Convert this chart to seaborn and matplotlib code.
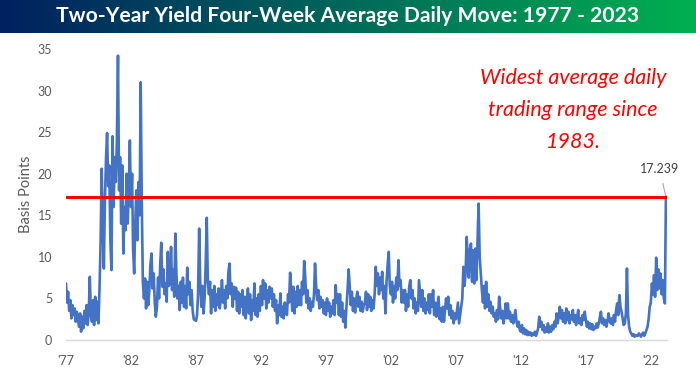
import numpy as np
import pandas as pd
import matplotlib
matplotlib.use("Agg")
import matplotlib.pyplot as plt
import seaborn as sns
from matplotlib.colors import LinearSegmentedColormap

# ---- data: approximate monthly readings of the 4-week average daily move (bp) ----
bp_1977_1981 = [
    6.8, 4.5, 5.8, 3.5, 4.8, 2.6, 4.2, 3.0, 3.8, 2.2, 3.4, 2.5,
    1.6, 3.2, 1.0, 2.8, 1.4, 3.5, 2.0, 4.2, 1.8, 3.2, 7.6, 3.0,
    2.2, 4.8, 1.8, 5.2, 2.4, 4.6, 2.0, 6.2, 11.8, 20.6, 14.0, 8.6,
    17.0, 22.0, 24.9, 18.5, 21.0, 12.0, 8.4, 24.5, 16.0, 22.0, 19.0, 24.0,
    34.2, 18.0, 22.0, 14.0, 21.0, 10.4, 16.0, 13.2, 20.0, 14.0, 18.0, 24.0,
]
bp_1982_1986 = [
    16.0, 20.0, 11.0, 8.0, 14.0, 18.0, 12.0, 19.0, 15.0, 31.0, 16.5, 7.0,
    5.0, 7.4, 3.8, 7.0, 4.2, 6.0, 9.0, 10.4, 6.2, 8.0, 4.5, 2.8,
    4.0, 7.5, 5.0, 9.0, 11.7, 6.4, 8.5, 5.5, 6.8, 4.6, 10.6, 6.5,
    7.0, 11.2, 6.0, 8.5, 5.2, 12.8, 8.0, 5.0, 6.5, 3.6, 7.0, 4.5,
    7.5, 4.0, 6.5, 3.8, 8.7, 5.5, 7.0, 4.2, 6.0, 3.5, 2.5, 2.4,
]
bp_1987_1991 = [
    2.3, 3.0, 5.5, 13.4, 7.0, 4.0, 6.5, 3.2, 5.0, 9.0, 14.7, 7.0,
    5.5, 7.0, 3.2, 6.0, 4.0, 6.5, 3.5, 5.5, 4.2, 6.2, 3.8, 5.0,
    7.2, 4.5, 6.0, 3.8, 6.5, 5.0, 8.2, 9.2, 5.5, 6.8, 4.0, 6.4,
    5.0, 6.3, 3.5, 5.8, 3.2, 5.5, 4.0, 6.0, 3.0, 5.2, 2.6, 4.8,
    6.2, 3.2, 5.5, 2.4, 4.8, 3.5, 6.8, 3.0, 5.0, 2.8, 5.5, 3.5,
]
bp_1992_1996 = [
    6.5, 4.2, 7.2, 5.0, 6.8, 3.8, 6.0, 4.5, 6.4, 5.0, 6.2, 4.0,
    5.5, 3.5, 4.8, 2.0, 4.2, 3.0, 5.6, 2.8, 4.0, 2.6, 4.5, 3.2,
    3.0, 5.5, 4.5, 8.1, 6.0, 3.5, 6.4, 3.2, 5.8, 4.0, 6.5, 4.2,
    6.0, 4.2, 7.0, 5.5, 9.5, 7.5, 4.5, 6.0, 3.8, 5.0, 3.5, 4.6,
    4.0, 5.5, 9.2, 6.5, 4.8, 6.0, 3.8, 5.2, 4.0, 4.8, 3.2, 4.5,
]
bp_1997_2001 = [
    3.0, 5.0, 3.5, 4.5, 2.8, 4.0, 3.2, 4.8, 3.0, 6.6, 4.5, 5.5,
    3.0, 5.5, 2.8, 4.5, 2.2, 3.5, 1.5, 4.0, 6.0, 8.5, 6.5, 4.2,
    5.8, 3.5, 5.0, 3.3, 4.8, 5.8, 4.0, 5.2, 3.5, 4.6, 3.4, 4.2,
    4.5, 5.8, 3.6, 5.5, 4.0, 5.2, 3.5, 4.8, 3.8, 5.5, 8.8, 6.5,
    8.0, 5.5, 7.5, 6.0, 8.2, 5.0, 6.5, 3.2, 7.0, 9.0, 10.6, 6.5,
]
bp_2002_2006 = [
    5.5, 7.0, 4.5, 6.5, 5.0, 7.5, 6.0, 9.6, 6.5, 7.2, 4.5, 6.0,
    4.5, 6.0, 3.5, 5.5, 4.0, 6.5, 7.2, 5.0, 6.0, 3.8, 5.0, 3.2,
    4.5, 3.5, 7.2, 5.5, 4.0, 6.0, 3.5, 5.0, 3.2, 4.5, 3.6, 5.5,
    3.2, 5.5, 4.0, 6.0, 3.0, 4.5, 2.8, 4.0, 5.2, 2.5, 3.8, 2.2,
    4.0, 2.2, 3.5, 5.0, 3.8, 5.2, 3.0, 4.2, 2.6, 3.5, 2.0, 3.2,
]
bp_2007_2011 = [
    2.5, 3.5, 4.5, 2.0, 3.0, 4.0, 5.0, 8.8, 6.5, 8.0, 12.4, 9.5,
    7.5, 11.0, 11.6, 7.0, 10.8, 6.8, 11.0, 7.2, 12.0, 16.4, 10.0, 8.0,
    6.0, 4.5, 6.5, 3.8, 7.0, 4.0, 5.5, 3.5, 4.6, 3.2, 4.0, 2.8,
    3.2, 2.2, 3.6, 2.5, 5.2, 3.8, 2.6, 3.5, 2.0, 3.0, 4.4, 2.6,
    4.4, 2.6, 3.4, 2.2, 3.0, 2.0, 2.8, 3.6, 2.2, 1.6, 2.2, 1.2,
]
bp_2012_2016 = [
    1.0, 1.8, 0.8, 1.4, 0.7, 1.2, 0.6, 1.0, 0.6, 0.9, 0.5, 0.8,
    0.6, 1.0, 0.5, 0.9, 1.4, 2.8, 1.6, 2.2, 1.2, 1.8, 0.9, 1.5,
    1.0, 2.0, 0.9, 1.6, 1.0, 1.8, 1.3, 2.2, 1.6, 3.2, 2.0, 2.8,
    4.0, 2.6, 3.6, 2.2, 3.2, 2.0, 3.8, 2.4, 3.4, 2.0, 3.0, 2.5,
    3.6, 2.2, 3.0, 1.8, 2.8, 3.6, 2.0, 2.6, 1.8, 3.0, 2.4, 3.4,
]
bp_2017_2023 = [
    2.4, 1.6, 2.2, 1.4, 2.0, 1.3, 1.9, 1.2, 1.6, 1.4, 2.0, 1.5,
    2.0, 2.8, 3.4, 2.0, 2.6, 1.8, 2.4, 1.6, 2.2, 3.2, 2.4, 2.0,
    2.6, 1.8, 3.0, 2.2, 3.6, 4.4, 3.0, 5.4, 4.0, 3.4, 2.6, 1.8,
    2.0, 3.2, 8.6, 3.0, 1.6, 1.0, 0.8, 0.5, 0.7, 0.4, 0.6, 0.5,
    0.5, 0.8, 0.6, 0.4, 0.7, 0.9, 0.5, 0.8, 1.2, 1.6, 2.5, 4.0,
    4.5, 6.8, 5.5, 7.8, 5.2, 9.9, 6.0, 8.5, 6.2, 8.0, 5.5, 7.2,
    5.0, 4.4, 17.239,
]
start_month = "1977-01-01"
latest_value = 17.239
tick_years = [1977, 1982, 1987, 1992, 1997, 2002, 2007, 2012, 2017, 2022]
tick_labels = ["'77", "'82", "'87", "'92", "'97", "'02", "'07", "'12", "'17", "'22"]
y_ticks = [0, 5, 10, 15, 20, 25, 30, 35]
title = "Two-Year Yield Four-Week Average Daily Move: 1977 - 2023"
note = "Widest average daily\ntrading range since\n1983."

values = (bp_1977_1981 + bp_1982_1986 + bp_1987_1991 + bp_1992_1996 +
          bp_1997_2001 + bp_2002_2006 + bp_2007_2011 + bp_2012_2016 + bp_2017_2023)
dates = pd.date_range(start_month, periods=len(values), freq="MS")
df = pd.DataFrame({"date": dates, "bp": values})

# ---- style ----
sns.set_style("white")
plt.rcParams["font.family"] = ["Lato", "DejaVu Sans"]

W, H = 696, 380
fig = plt.figure(figsize=(W / 100, H / 100), dpi=100)

# banner
bax = fig.add_axes([0, 1 - 33 / H, 1, 33 / H])
cmap = LinearSegmentedColormap.from_list("banner", ["#002060", "#00695a", "#00b050"])
bax.imshow(np.linspace(0, 1, 256)[None, :], aspect="auto", cmap=cmap, extent=[0, 1, 0, 1])
bax.set_axis_off()
fig.text(0.5, 1 - 16.5 / H, title, ha="center", va="center", color="white",
         fontsize=15.2, fontweight="bold")

# main axes
left, right = 66 / W, 667 / W
bottom, top = 1 - 340 / H, 1 - 49 / H
ax = fig.add_axes([left, bottom, right - left, top - bottom])

sns.lineplot(data=df, x="date", y="bp", color="#4472C4", linewidth=1.9, ax=ax)
ax.axhline(latest_value, color="#FF0000", linewidth=2.2, zorder=5)

ax.set_xlim(pd.Timestamp("1977-01-01"), pd.Timestamp("2023-04-01"))
ax.set_ylim(0, 35)
ax.set_yticks(y_ticks)
ax.set_yticklabels([str(v) for v in y_ticks], fontsize=9, color="#595959")
ax.set_xticks([pd.Timestamp(f"{y}-01-01") for y in tick_years])
ax.set_xticklabels(tick_labels, fontsize=9, color="#595959")
ax.set_xlabel("")
ax.set_ylabel("Basis Points", fontsize=10.5, color="#595959", labelpad=3)

for s in ["top", "right", "left"]:
    ax.spines[s].set_visible(False)
ax.spines["bottom"].set_color("#D9D9D9")
ax.spines["bottom"].set_linewidth(1.0)
ax.tick_params(axis="x", length=5, color="#D9D9D9", width=1.0, pad=6)
ax.tick_params(axis="y", length=0, pad=10)
ax.grid(False)

# annotation text
ax.text(pd.Timestamp("2016-01-01"), 27.7, note, ha="center", va="center",
        color="#FF0000", fontsize=15.5, style="italic", linespacing=1.75)

# latest value label
ax.annotate(f"{latest_value:.3f}", xy=(dates[-1], latest_value),
            xytext=(pd.Timestamp("2022-09-01"), 20.6), ha="center", va="center",
            fontsize=9, color="#404040",
            arrowprops=dict(arrowstyle="-", color="#A6A6A6", lw=0.8, shrinkA=4, shrinkB=0))

fig.savefig("out.png", dpi=100)
